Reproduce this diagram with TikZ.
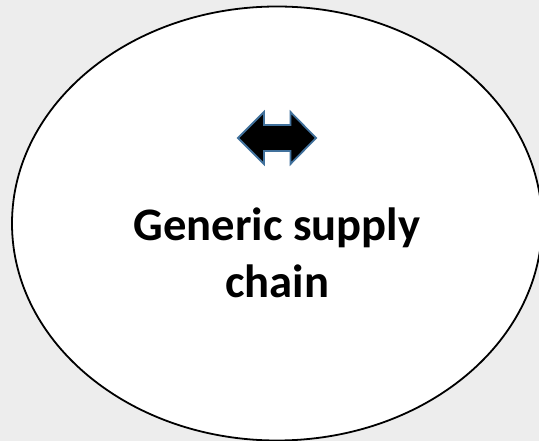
\documentclass[tikz,border=0pt]{standalone}
\usepackage{fontspec}
\setmainfont{Carlito}
\usetikzlibrary{shapes.geometric}
\definecolor{bggray}{HTML}{EDEDED}
\definecolor{arrowblue}{HTML}{41719C}
\tikzset{
  oval/.style={ellipse, draw=black, line width=1.8pt, fill=white, inner sep=0pt,
    minimum width=530pt, minimum height=434pt},
  dblarrow/.style={fill=black, draw=arrowblue, line width=1.8pt, line join=miter},
  label text/.style={font=\fontsize{46.6pt}{57.3pt}\selectfont\bfseries, align=center, inner sep=0pt}
}
\begin{document}
\begin{tikzpicture}[x=1pt, y=-1pt]
\useasboundingbox (0,0) rectangle (539,441);
\fill[bggray] (0,0) rectangle (539,441);
\node[oval] (oval) at (277,223.5) {};
\draw[dblarrow] (238,138) -- (264,112) -- (264,125) -- (290.5,125) -- (290.5,112)
  -- (316,138) -- (290.5,164) -- (290.5,151) -- (264,151) -- (264,164) -- cycle;
\node[label text, anchor=base] (lbl) at (277,298) {Generic supply\\chain};
\end{tikzpicture}
\end{document}
